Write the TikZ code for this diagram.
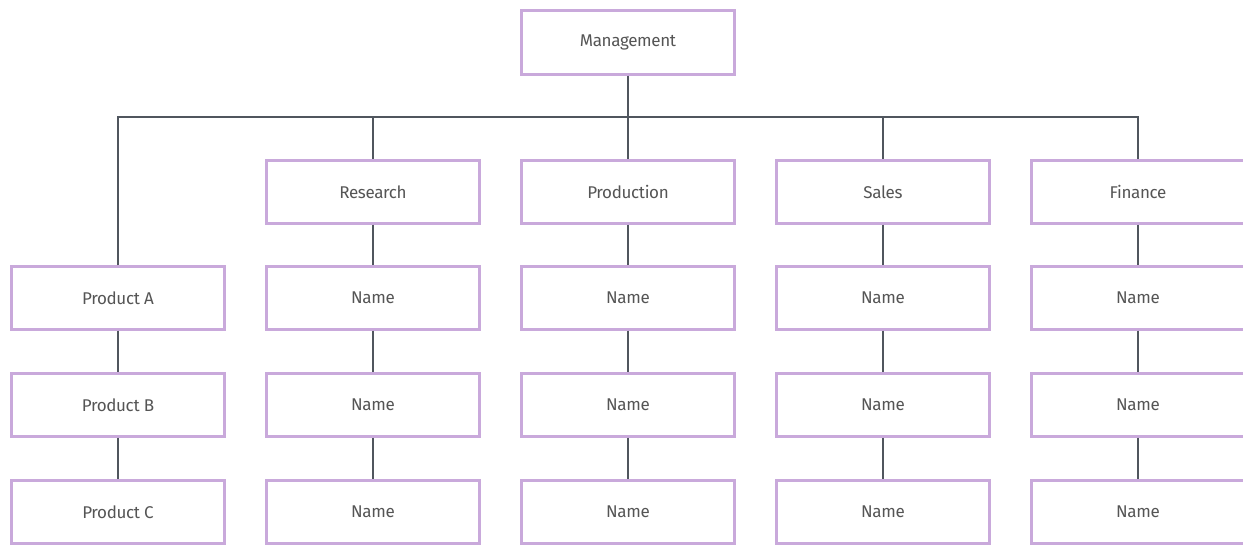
\documentclass[tikz,border=0pt]{standalone}
\usepackage{fontspec}
\setmainfont{Fira Sans}
\definecolor{boxc}{HTML}{C9A9DB}
\definecolor{linec}{HTML}{50565E}
\definecolor{txt}{HTML}{555555}
\begin{document}
\begin{tikzpicture}[x=1pt,y=-1pt,
  box/.style={draw=boxc,line width=2.2pt,fill=white,minimum width=213pt,minimum height=63pt,inner sep=0pt,font=\fontsize{17}{20}\selectfont\addfontfeature{LetterSpace=-2},text=txt},
  conn/.style={draw=linec,line width=1.4pt}]
\useasboundingbox (0,0) rectangle (1243,544);
\node[box,minimum height=64pt] (m) at (628,42.5) {Management};
\foreach \n/\x/\t in {r/373/Research,p/628/Production,s/883/Sales,f/1138/Finance}
  \node[box] (\n0) at (\x,192) {\t};
\node[box] (a1) at (118,298) {Product A};
\node[box] (a2) at (118,405) {Product B};
\node[box] (a3) at (118,512) {Product C};
\foreach \n/\x in {r/373,p/628,s/883,f/1138}{
  \node[box] (\n1) at (\x,298) {Name};
  \node[box] (\n2) at (\x,405) {Name};
  \node[box] (\n3) at (\x,512) {Name};
}
\coordinate (bus) at (628,117);
\draw[conn] (a1.north) |- (f0.north |- bus) -- (f0.north);
\foreach \n in {r,p,s}
  \draw[conn] (\n0.north |- bus) -- (\n0.north);
\draw[conn,line width=2.6pt] (m.south) -- (bus);
\foreach \n in {a}{
  \draw[conn] (\n1) -- (\n2); \draw[conn] (\n2) -- (\n3);}
\foreach \n in {r,p,s,f}{
  \draw[conn] (\n0) -- (\n1); \draw[conn] (\n1) -- (\n2); \draw[conn] (\n2) -- (\n3);}
\end{tikzpicture}
\end{document}
